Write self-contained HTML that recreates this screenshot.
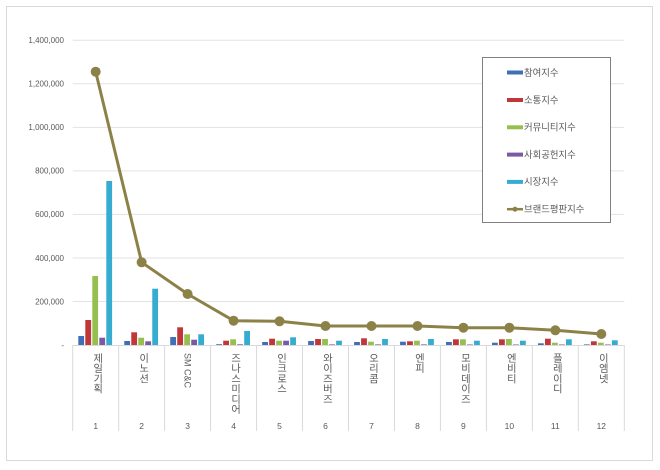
<!DOCTYPE html>
<html><head><meta charset="utf-8"><style>
html,body{margin:0;padding:0;background:#fff;}
#c{position:relative;width:660px;height:470px;overflow:hidden;font-family:"Liberation Sans","Noto Sans CJK KR",sans-serif;}
svg{position:absolute;left:0;top:0;}
.cl{position:absolute;top:353px;width:14px;margin-left:-7px;writing-mode:vertical-rl;text-orientation:upright;font-size:10.2px;line-height:14px;color:#595959;font-family:"Liberation Sans","Noto Sans CJK KR",sans-serif;white-space:nowrap;}
.cl.m{text-orientation:mixed;font-size:9px;}
</style></head><body><div id="c">
<svg width="660" height="470" viewBox="0 0 660 470" xmlns="http://www.w3.org/2000/svg" font-family="Liberation Sans, Noto Sans CJK KR, sans-serif">
<rect x="6.5" y="6.5" width="646" height="454" fill="#fff" stroke="#d9d9d9" stroke-width="1"/>
<g stroke="#e3e3e3" stroke-width="1">
<line x1="72.7" x2="624.3" y1="301.5" y2="301.5"/>
<line x1="72.7" x2="624.3" y1="258" y2="258"/>
<line x1="72.7" x2="624.3" y1="214.4" y2="214.4"/>
<line x1="72.7" x2="624.3" y1="170.9" y2="170.9"/>
<line x1="72.7" x2="624.3" y1="127.4" y2="127.4"/>
<line x1="72.7" x2="624.3" y1="83.8" y2="83.8"/>
<line x1="72.7" x2="624.3" y1="40.3" y2="40.3"/>
</g>
<g stroke="#d9d9d9" stroke-width="1">
<line x1="72.7" x2="624.3" y1="345.5" y2="345.5"/>
<line x1="72.7" x2="72.7" y1="345" y2="431"/>
<line x1="118.67" x2="118.67" y1="345" y2="431"/>
<line x1="164.63" x2="164.63" y1="345" y2="431"/>
<line x1="210.6" x2="210.6" y1="345" y2="431"/>
<line x1="256.57" x2="256.57" y1="345" y2="431"/>
<line x1="302.53" x2="302.53" y1="345" y2="431"/>
<line x1="348.5" x2="348.5" y1="345" y2="431"/>
<line x1="394.47" x2="394.47" y1="345" y2="431"/>
<line x1="440.43" x2="440.43" y1="345" y2="431"/>
<line x1="486.4" x2="486.4" y1="345" y2="431"/>
<line x1="532.37" x2="532.37" y1="345" y2="431"/>
<line x1="578.33" x2="578.33" y1="345" y2="431"/>
<line x1="624.3" x2="624.3" y1="345" y2="431"/>
</g>
<g font-size="8" fill="#595959" text-anchor="end">
<text x="64" y="348">-</text>
<text x="64" y="304.3">200,000</text>
<text x="64" y="260.8">400,000</text>
<text x="64" y="217.2">600,000</text>
<text x="64" y="173.7">800,000</text>
<text x="64" y="130.2">1,000,000</text>
<text x="64" y="86.6">1,200,000</text>
<text x="64" y="43.1">1,400,000</text>
</g>
<g font-size="8.5" fill="#595959" text-anchor="middle">
<text x="95.68" y="429">1</text>
<text x="141.65" y="429">2</text>
<text x="187.61" y="429">3</text>
<text x="233.58" y="429">4</text>
<text x="279.55" y="429">5</text>
<text x="325.51" y="429">6</text>
<text x="371.48" y="429">7</text>
<text x="417.45" y="429">8</text>
<text x="463.41" y="429">9</text>
<text x="509.38" y="429">10</text>
<text x="555.35" y="429">11</text>
<text x="601.31" y="429">12</text>
</g>
<!-- bars -->
<g>
<g transform="translate(72.7,0)">
<rect x="5.6" width="5.8" y="336" height="9" fill="#3f6fb6"/>
<rect x="12.6" width="5.8" y="320" height="25" fill="#c0373a"/>
<rect x="19.6" width="5.8" y="276" height="69" fill="#97bf4f"/>
<rect x="26.6" width="5.8" y="337.7" height="7.3" fill="#7b5aa5"/>
<rect x="33.6" width="5.8" y="181" height="164" fill="#36acd0"/>
</g>
<g transform="translate(118.67,0)">
<rect x="5.6" width="5.8" y="341" height="4" fill="#3f6fb6"/>
<rect x="12.6" width="5.8" y="332.3" height="12.7" fill="#c0373a"/>
<rect x="19.6" width="5.8" y="337.7" height="7.3" fill="#97bf4f"/>
<rect x="26.6" width="5.8" y="341.3" height="3.7" fill="#7b5aa5"/>
<rect x="33.6" width="5.8" y="288.7" height="56.3" fill="#36acd0"/>
</g>
<g transform="translate(164.63,0)">
<rect x="5.6" width="5.8" y="337" height="8" fill="#3f6fb6"/>
<rect x="12.6" width="5.8" y="327.3" height="17.7" fill="#c0373a"/>
<rect x="19.6" width="5.8" y="334.3" height="10.7" fill="#97bf4f"/>
<rect x="26.6" width="5.8" y="339.7" height="5.3" fill="#7b5aa5"/>
<rect x="33.6" width="5.8" y="334.3" height="10.7" fill="#36acd0"/>
</g>
<g transform="translate(210.6,0)">
<rect x="5.6" width="5.8" y="344.2" height="0.8" fill="#3f6fb6"/>
<rect x="12.6" width="5.8" y="340.7" height="4.3" fill="#c0373a"/>
<rect x="19.6" width="5.8" y="339.3" height="5.7" fill="#97bf4f"/>
<rect x="26.6" width="5.8" y="344.3" height="0.7" fill="#7b5aa5"/>
<rect x="33.6" width="5.8" y="331" height="14" fill="#36acd0"/>
</g>
<g transform="translate(256.57,0)">
<rect x="5.6" width="5.8" y="342" height="3" fill="#3f6fb6"/>
<rect x="12.6" width="5.8" y="338.7" height="6.3" fill="#c0373a"/>
<rect x="19.6" width="5.8" y="340.7" height="4.3" fill="#97bf4f"/>
<rect x="26.6" width="5.8" y="340.7" height="4.3" fill="#7b5aa5"/>
<rect x="33.6" width="5.8" y="337.3" height="7.7" fill="#36acd0"/>
</g>
<g transform="translate(302.53,0)">
<rect x="5.6" width="5.8" y="341" height="4" fill="#3f6fb6"/>
<rect x="12.6" width="5.8" y="339" height="6" fill="#c0373a"/>
<rect x="19.6" width="5.8" y="339" height="6" fill="#97bf4f"/>
<rect x="26.6" width="5.8" y="344.4" height="0.6" fill="#7b5aa5"/>
<rect x="33.6" width="5.8" y="340.7" height="4.3" fill="#36acd0"/>
</g>
<g transform="translate(348.5,0)">
<rect x="5.6" width="5.8" y="342" height="3" fill="#3f6fb6"/>
<rect x="12.6" width="5.8" y="338.3" height="6.7" fill="#c0373a"/>
<rect x="19.6" width="5.8" y="341.7" height="3.3" fill="#97bf4f"/>
<rect x="26.6" width="5.8" y="344.4" height="0.6" fill="#7b5aa5"/>
<rect x="33.6" width="5.8" y="339" height="6" fill="#36acd0"/>
</g>
<g transform="translate(394.47,0)">
<rect x="5.6" width="5.8" y="341.7" height="3.3" fill="#3f6fb6"/>
<rect x="12.6" width="5.8" y="341.3" height="3.7" fill="#c0373a"/>
<rect x="19.6" width="5.8" y="340.7" height="4.3" fill="#97bf4f"/>
<rect x="26.6" width="5.8" y="344.4" height="0.6" fill="#7b5aa5"/>
<rect x="33.6" width="5.8" y="339" height="6" fill="#36acd0"/>
</g>
<g transform="translate(440.43,0)">
<rect x="5.6" width="5.8" y="342" height="3" fill="#3f6fb6"/>
<rect x="12.6" width="5.8" y="339.3" height="5.7" fill="#c0373a"/>
<rect x="19.6" width="5.8" y="339.3" height="5.7" fill="#97bf4f"/>
<rect x="26.6" width="5.8" y="344.5" height="0.5" fill="#7b5aa5"/>
<rect x="33.6" width="5.8" y="340.7" height="4.3" fill="#36acd0"/>
</g>
<g transform="translate(486.4,0)">
<rect x="5.6" width="5.8" y="342.7" height="2.3" fill="#3f6fb6"/>
<rect x="12.6" width="5.8" y="339.3" height="5.7" fill="#c0373a"/>
<rect x="19.6" width="5.8" y="339" height="6" fill="#97bf4f"/>
<rect x="26.6" width="5.8" y="344.5" height="0.5" fill="#7b5aa5"/>
<rect x="33.6" width="5.8" y="340.7" height="4.3" fill="#36acd0"/>
</g>
<g transform="translate(532.37,0)">
<rect x="5.6" width="5.8" y="343.3" height="1.7" fill="#3f6fb6"/>
<rect x="12.6" width="5.8" y="338.7" height="6.3" fill="#c0373a"/>
<rect x="19.6" width="5.8" y="342.7" height="2.3" fill="#97bf4f"/>
<rect x="26.6" width="5.8" y="344.5" height="0.5" fill="#7b5aa5"/>
<rect x="33.6" width="5.8" y="339.3" height="5.7" fill="#36acd0"/>
</g>
<g transform="translate(578.33,0)">
<rect x="5.6" width="5.8" y="344.4" height="0.6" fill="#3f6fb6"/>
<rect x="12.6" width="5.8" y="341.3" height="3.7" fill="#c0373a"/>
<rect x="19.6" width="5.8" y="342.7" height="2.3" fill="#97bf4f"/>
<rect x="26.6" width="5.8" y="344.5" height="0.5" fill="#7b5aa5"/>
<rect x="33.6" width="5.8" y="340.3" height="4.7" fill="#36acd0"/>
</g>
</g>
<!-- line -->
<polyline fill="none" stroke="#8c8248" stroke-width="3" stroke-linejoin="round" points="95.68,71.7 141.65,262.3 187.61,294 233.58,320.7 279.55,321.3 325.51,326 371.48,326 417.45,326 463.41,327.7 509.38,327.7 555.35,330.3 601.31,334"/>
<g fill="#8c8248">
<circle cx="95.68" cy="71.7" r="5"/>
<circle cx="141.65" cy="262.3" r="5"/>
<circle cx="187.61" cy="294" r="5"/>
<circle cx="233.58" cy="320.7" r="5"/>
<circle cx="279.55" cy="321.3" r="5"/>
<circle cx="325.51" cy="326" r="5"/>
<circle cx="371.48" cy="326" r="5"/>
<circle cx="417.45" cy="326" r="5"/>
<circle cx="463.41" cy="327.7" r="5"/>
<circle cx="509.38" cy="327.7" r="5"/>
<circle cx="555.35" cy="330.3" r="5"/>
<circle cx="601.31" cy="334" r="5"/>
</g>
<!-- legend -->
<rect x="482.5" y="57.5" width="128" height="165" fill="#fff" stroke="#808080" stroke-width="1"/>
<rect x="507" y="70.5" width="16" height="4" fill="#3f6fb6"/>
<rect x="507" y="98" width="16" height="4" fill="#c0373a"/>
<rect x="507" y="125.3" width="16" height="4" fill="#97bf4f"/>
<rect x="507" y="152.6" width="16" height="4" fill="#7b5aa5"/>
<rect x="507" y="179.9" width="16" height="4" fill="#36acd0"/>
<line x1="507" x2="523" y1="209.2" y2="209.2" stroke="#8c8248" stroke-width="2.5"/>
<circle cx="515" cy="209.2" r="2.5" fill="#8c8248"/>
<g font-size="9.4" fill="#595959">
<text x="524" y="75.8">참여지수</text>
<text x="524" y="103.3">소통지수</text>
<text x="524" y="130.6">커뮤니티지수</text>
<text x="524" y="157.9">사회공헌지수</text>
<text x="524" y="185.2">시장지수</text>
<text x="524" y="212.5">브랜드평판지수</text>
</g>
</svg>
<div class="cl" style="left:95.68px">제일기획</div>
<div class="cl" style="left:141.65px">이노션</div>
<div class="cl m" style="left:187.61px">SM C&amp;C</div>
<div class="cl" style="left:233.58px">즈나스미디어</div>
<div class="cl" style="left:279.55px">인크로스</div>
<div class="cl" style="left:325.51px">와이즈버즈</div>
<div class="cl" style="left:371.48px">오리콤</div>
<div class="cl" style="left:417.45px">엔피</div>
<div class="cl" style="left:463.41px">모비데이즈</div>
<div class="cl" style="left:509.38px">엔비티</div>
<div class="cl" style="left:555.35px">플레이디</div>
<div class="cl" style="left:601.31px">이엠넷</div>
</div></body></html>
